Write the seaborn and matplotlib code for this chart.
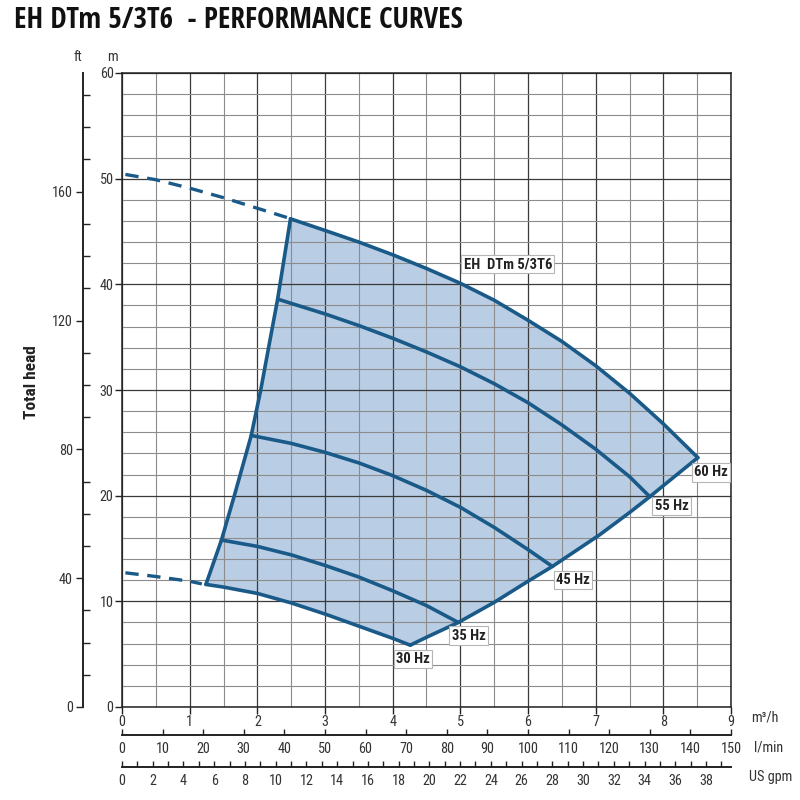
import os
import numpy as np
import pandas as pd
import seaborn as sns
import matplotlib
matplotlib.use("Agg")
import matplotlib.pyplot as plt
from matplotlib import font_manager
from matplotlib.ticker import MultipleLocator, FixedLocator

# readings from the chart: flow Q in m3/h, head H in m
q_60 = [2.49, 3.0, 3.5, 4.0, 4.5, 5.0, 5.5, 6.0, 6.5, 7.0, 7.5, 8.0, 8.51]
h_60 = [46.2, 45.1, 44.0, 42.8, 41.5, 40.1, 38.5, 36.6, 34.6, 32.3, 29.7, 26.8, 23.6]
q_55 = [2.30, 3.0, 3.5, 4.0, 4.5, 5.0, 5.5, 6.0, 6.5, 7.0, 7.5, 7.80]
h_55 = [38.6, 37.2, 36.1, 34.9, 33.6, 32.2, 30.6, 28.8, 26.7, 24.4, 21.8, 19.9]
q_45 = [1.91, 2.5, 3.0, 3.5, 4.0, 4.5, 5.0, 5.5, 6.0, 6.36]
h_45 = [25.7, 24.95, 24.1, 23.1, 21.9, 20.5, 18.9, 17.0, 14.9, 13.3]
q_35 = [1.47, 2.0, 2.5, 3.0, 3.5, 4.0, 4.5, 4.97]
h_35 = [15.8, 15.2, 14.4, 13.4, 12.3, 11.0, 9.6, 8.0]
q_30 = [1.24, 1.5, 2.0, 2.5, 3.0, 3.5, 4.0, 4.26]
h_30 = [11.6, 11.35, 10.75, 9.85, 8.8, 7.65, 6.5, 5.85]

# dashed parts outside the working range
q_60_ext = [0.05, 0.5, 1.0, 1.5, 2.0, 2.45]
h_60_ext = [50.4, 49.9, 49.1, 48.2, 47.2, 46.3]
q_30_ext = [0.05, 0.5, 1.0, 1.18]
h_30_ext = [12.7, 12.35, 11.9, 11.65]

# limits of the working range (min and max flow)
q_left = [1.24, 1.47, 1.66, 1.91, 2.05, 2.30, 2.49]
h_left = [11.6, 15.8, 20.0, 25.7, 30.0, 38.6, 46.2]
q_right = [4.26, 4.5, 4.97, 5.5, 6.0, 6.36, 6.5, 7.06, 7.5, 7.80, 8.0, 8.51]
h_right = [5.85, 6.6, 8.0, 9.9, 11.9, 13.3, 13.9, 16.3, 18.4, 19.9, 20.95, 23.6]

# tick values of the extra scales
ft_ticks = [0, 40, 80, 120, 160]
lpm_ticks = list(range(0, 151, 10))
gpm_ticks = list(range(0, 39, 2))

hz_labels = ["60 Hz", "55 Hz", "45 Hz", "35 Hz", "30 Hz"]
model_name = "EH  DTm 5/3T6"

LINE = "#1a5a88"
FILL = "#b9cde4"

sns.set_theme(style="ticks")
plt.rcParams["font.family"] = ["DejaVu Sans"]

# the chart uses narrow lettering: take the first condensed face found
all_files = {os.path.basename(f.fname): f.fname for f in font_manager.fontManager.ttflist}

def pick(candidates, fallback_weight):
    for c in candidates:
        if c in all_files:
            return font_manager.FontProperties(fname=all_files[c]), True
    return font_manager.FontProperties(family="DejaVu Sans", weight=fallback_weight), False

fp_title, t_ok = pick(["OpenSans-CondBold.ttf", "RobotoCondensed-Bold.ttf",
                       "DejaVuSansCondensed-Bold.ttf"], "bold")
fp_bold, b_ok = pick(["RobotoCondensed-Bold.ttf", "DejaVuSansCondensed-Bold.ttf",
                      "OpenSans-CondBold.ttf"], "bold")
fp_reg, r_ok = pick(["RobotoCondensed-Regular.ttf", "RobotoCondensed-Light.ttf",
                     "DejaVuSansCondensed.ttf"], "normal")

def fprop(base, size):
    p = base.copy()
    p.set_size(size)
    return p

tick_fp = fprop(fp_reg, 10.3 if r_ok else 8.5)

fig = plt.figure(figsize=(8, 8), dpi=100)
ax = fig.add_axes([0.1525, 0.11625, 0.76125, 0.7925])

# shaded working area
poly_q = q_60 + q_right[::-1] + q_30[::-1] + q_left
poly_h = h_60 + h_right[::-1] + h_30[::-1] + h_left
ax.fill(poly_q, poly_h, color=FILL, zorder=0.4, lw=0)

curves = pd.concat([
    pd.DataFrame({"Q": q, "H": h, "curve": name})
    for q, h, name in [(q_60, h_60, "60"), (q_55, h_55, "55"), (q_45, h_45, "45"),
                       (q_35, h_35, "35"), (q_30, h_30, "30"),
                       (q_left, h_left, "left"), (q_right, h_right, "right")]
])
sns.lineplot(data=curves, x="Q", y="H", units="curve", estimator=None, sort=False,
             color=LINE, lw=2.6, legend=False, ax=ax, zorder=3)

ext = pd.concat([pd.DataFrame({"Q": q_60_ext, "H": h_60_ext, "curve": "60"}),
                 pd.DataFrame({"Q": q_30_ext, "H": h_30_ext, "curve": "30"})])
sns.lineplot(data=ext, x="Q", y="H", units="curve", estimator=None, sort=False,
             color=LINE, lw=2.4, legend=False, ax=ax, zorder=3)
for line in ax.lines[-2:]:
    line.set_dashes([4, 2.6])

ax.set_xlim(0, 9)
ax.set_ylim(0, 60)
ax.xaxis.set_major_locator(FixedLocator(range(0, 10)))
ax.xaxis.set_minor_locator(MultipleLocator(0.5))
ax.yaxis.set_major_locator(FixedLocator(range(0, 61, 10)))
ax.yaxis.set_minor_locator(MultipleLocator(2))
ax.set_axisbelow(True)
ax.grid(which="major", color="#3a3a3a", lw=0.9)
ax.grid(which="minor", color="#8c8c8c", lw=0.8)
ax.tick_params(which="minor", length=0)
ax.tick_params(which="major", direction="out", length=5, width=1, color="#222222",
               labelcolor="#333333", pad=1)
for s in ax.spines.values():
    s.set_color("#222222")
    s.set_linewidth(1.1)
ax.set_xlabel("")
ax.set_ylabel("")

# head in feet, on its own line further left
ft = ax.secondary_yaxis(-0.0645, functions=(lambda m: m * 3.28084, lambda f: f / 3.28084))
ft.yaxis.set_major_locator(FixedLocator(ft_ticks))
ft.yaxis.set_minor_locator(FixedLocator(range(10, 200, 10)))
ft.tick_params(which="major", direction="out", length=5, width=1, color="#222222",
               labelcolor="#333333", pad=2)
ft.tick_params(which="minor", direction="in", length=5, width=1, color="#222222")
ft.spines["left"].set_linewidth(1.4)
ft.spines["left"].set_color("#222222")

# flow in l/min and US gpm below
lpm = ax.secondary_xaxis(-0.0442, functions=(lambda q: q * 1000 / 60, lambda l: l * 60 / 1000))
lpm.xaxis.set_major_locator(FixedLocator(lpm_ticks))
lpm.tick_params(direction="in", length=4, width=1, color="#222222",
                labelcolor="#333333", pad=5)
lpm.spines["bottom"].set_linewidth(1.4)
lpm.spines["bottom"].set_color("#222222")

gpm = ax.secondary_xaxis(-0.0946, functions=(lambda q: q * 4.402868, lambda g: g / 4.402868))
gpm.xaxis.set_major_locator(FixedLocator(gpm_ticks))
gpm.xaxis.set_minor_locator(FixedLocator(range(1, 40)))
gpm.tick_params(which="major", direction="in", length=4, width=1, color="#222222",
                labelcolor="#333333", pad=5)
gpm.tick_params(which="minor", direction="in", length=4, width=1, color="#222222")
gpm.spines["bottom"].set_linewidth(1.4)
gpm.spines["bottom"].set_color("#222222")

for a in (ax, ft, lpm, gpm):
    for lab in a.get_xticklabels() + a.get_yticklabels():
        lab.set_fontproperties(tick_fp)

# curve labels
box = dict(boxstyle="square,pad=0.15", fc="white", ec="#b5b5b5", lw=0.8)
label_pos = [(8.70, 22.2), (8.12, 19.0), (6.67, 12.0), (5.12, 6.75), (4.30, 4.55)]
lab_fp = fprop(fp_bold, 10.5 if b_ok else 9)
for txt, (x, y) in zip(hz_labels, label_pos):
    ax.text(x, y, txt, ha="center", va="center", fontproperties=lab_fp,
            color="#222222", bbox=box, zorder=5)
ax.text(5.70, 41.9, model_name, ha="center", va="center", fontproperties=lab_fp,
        color="#222222", bbox=box, zorder=5)

# units, axis title and chart title
W, Hpx = 800, 800
fig.text(78 / W, 1 - 57 / Hpx, "ft", ha="center", va="center", fontproperties=tick_fp, color="#333333")
fig.text(112 / W, 1 - 57 / Hpx, "m", ha="center", va="center", fontproperties=tick_fp, color="#333333")
fig.text(751 / W, 1 - 718 / Hpx, "m³/h", ha="left", va="center", fontproperties=tick_fp, color="#333333")
fig.text(754 / W, 1 - 747 / Hpx, "l/min", ha="left", va="center", fontproperties=tick_fp, color="#333333")
fig.text(749 / W, 1 - 777 / Hpx, "US gpm", ha="left", va="center", fontproperties=tick_fp, color="#333333")
fig.text(32 / W, 1 - 382 / Hpx, "Total head", rotation=90, ha="center", va="center",
         fontproperties=fprop(fp_bold, 12.5 if b_ok else 11), color="#222222")
fig.text(14 / W, 1 - 20 / Hpx, "EH DTm 5/3T6  - PERFORMANCE CURVES", ha="left", va="center",
         fontproperties=fprop(fp_title, 21 if t_ok else 17), color="#111111")

fig.savefig("out.png", dpi=100)
